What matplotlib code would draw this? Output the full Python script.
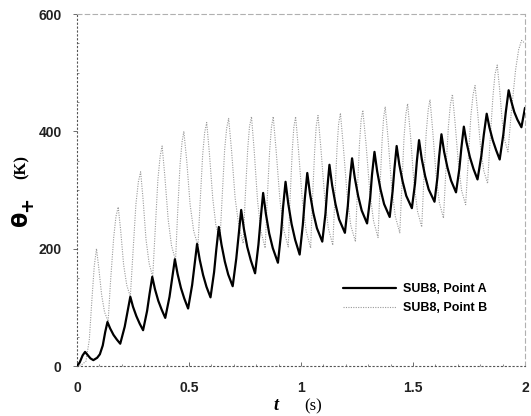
import matplotlib
matplotlib.use("Agg")
import matplotlib.pyplot as plt
from matplotlib.ticker import MultipleLocator

# ---- data ----
t_A = [0.000, 0.012, 0.025, 0.036, 0.047, 0.060, 0.073, 0.090, 0.102, 0.115, 0.126, 0.136,
       0.148, 0.163, 0.178, 0.193, 0.213, 0.226, 0.238,
       0.250, 0.265, 0.280, 0.295, 0.313, 0.324, 0.336,
       0.348, 0.363, 0.378, 0.394, 0.413, 0.425, 0.437,
       0.449, 0.464, 0.479, 0.496, 0.514, 0.525, 0.536,
       0.548, 0.563, 0.578, 0.596, 0.612, 0.622, 0.633,
       0.645, 0.660, 0.675, 0.695, 0.711, 0.722, 0.733,
       0.745, 0.760, 0.776, 0.795, 0.810, 0.820, 0.831,
       0.843, 0.858, 0.874, 0.897, 0.911, 0.920, 0.931,
       0.943, 0.958, 0.974, 0.994, 1.008, 1.017, 1.028,
       1.040, 1.055, 1.071, 1.095, 1.109, 1.117, 1.127,
       1.139, 1.154, 1.170, 1.196, 1.209, 1.217, 1.228,
       1.240, 1.255, 1.271, 1.295, 1.309, 1.317, 1.328,
       1.340, 1.355, 1.371, 1.396, 1.409, 1.417, 1.427,
       1.439, 1.454, 1.470, 1.495, 1.509, 1.517, 1.527,
       1.539, 1.554, 1.570, 1.596, 1.609, 1.617, 1.627,
       1.639, 1.654, 1.670, 1.692, 1.707, 1.716, 1.727,
       1.739, 1.754, 1.770, 1.788, 1.805, 1.816, 1.829,
       1.841, 1.856, 1.871, 1.887, 1.903, 1.914, 1.927,
       1.939, 1.952, 1.966, 1.984, 2.000]
theta_A = [0, 6, 18, 24, 19, 13, 10, 14, 20, 35, 58, 75,
           64, 53, 45, 38, 67, 93, 118,
           101, 85, 72, 61, 94, 123, 152,
           131, 111, 96, 82, 118, 150, 182,
           157, 133, 115, 98, 138, 173, 208,
           181, 155, 135, 117, 160, 199, 237,
           207, 178, 156, 136, 183, 224, 266,
           234, 203, 180, 158, 207, 251, 295,
           260, 226, 201, 176, 226, 271, 314,
           277, 242, 215, 190, 240, 285, 329,
           294, 261, 235, 212, 259, 301, 343,
           308, 276, 250, 227, 273, 313, 354,
           321, 290, 265, 243, 287, 326, 365,
           332, 301, 276, 254, 298, 336, 375,
           343, 314, 290, 269, 311, 348, 385,
           353, 324, 301, 280, 321, 358, 395,
           365, 338, 316, 296, 336, 372, 408,
           381, 356, 336, 318, 358, 394, 430,
           407, 385, 368, 352, 394, 432, 470,
           451, 433, 420, 407, 440]

t_B = [0.000, 0.020, 0.040, 0.055, 0.066, 0.077, 0.087,
       0.097, 0.110, 0.123, 0.139, 0.150, 0.164, 0.174, 0.184,
       0.195, 0.208, 0.222, 0.238, 0.250, 0.263, 0.274, 0.284,
       0.295, 0.308, 0.322, 0.338, 0.349, 0.361, 0.371, 0.380,
       0.392, 0.407, 0.422, 0.440, 0.449, 0.460, 0.469, 0.477,
       0.490, 0.505, 0.521, 0.540, 0.550, 0.561, 0.570, 0.579,
       0.591, 0.606, 0.620, 0.638, 0.648, 0.659, 0.668, 0.677,
       0.690, 0.706, 0.723, 0.742, 0.751, 0.762, 0.770, 0.779,
       0.791, 0.806, 0.821, 0.840, 0.849, 0.860, 0.868, 0.876,
       0.889, 0.906, 0.923, 0.943, 0.951, 0.961, 0.968, 0.976,
       0.989, 1.006, 1.023, 1.043, 1.051, 1.061, 1.068, 1.076,
       1.089, 1.106, 1.122, 1.142, 1.151, 1.161, 1.168, 1.176,
       1.189, 1.206, 1.222, 1.243, 1.251, 1.261, 1.268, 1.276,
       1.290, 1.307, 1.324, 1.344, 1.352, 1.362, 1.369, 1.376,
       1.389, 1.405, 1.421, 1.441, 1.450, 1.460, 1.468, 1.476,
       1.489, 1.504, 1.520, 1.539, 1.548, 1.559, 1.568, 1.576,
       1.588, 1.603, 1.618, 1.636, 1.646, 1.658, 1.667, 1.676,
       1.688, 1.703, 1.717, 1.735, 1.746, 1.758, 1.768, 1.777,
       1.788, 1.802, 1.816, 1.833, 1.844, 1.857, 1.866, 1.876,
       1.886, 1.898, 1.910, 1.924, 1.939, 1.958, 1.972, 1.985, 2.000]
theta_B = [0, 2, 8, 45, 110, 170, 200,
           168, 121, 92, 76, 146, 220, 255, 271,
           231, 173, 138, 118, 195, 276, 314, 331,
           284, 216, 175, 152, 232, 317, 357, 375,
           324, 250, 205, 180, 259, 343, 382, 400,
           349, 275, 230, 205, 281, 360, 398, 415,
           363, 286, 240, 214, 289, 368, 405, 422,
           367, 286, 237, 209, 287, 369, 408, 425,
           367, 282, 230, 201, 282, 367, 407, 425,
           367, 283, 232, 203, 283, 367, 407, 425,
           367, 282, 230, 201, 282, 367, 409, 427,
           370, 286, 235, 206, 287, 373, 413, 431,
           374, 291, 240, 212, 293, 378, 418, 436,
           380, 297, 247, 219, 299, 384, 424, 442,
           386, 304, 255, 227, 306, 390, 429, 447,
           392, 313, 264, 237, 315, 398, 437, 454,
           401, 325, 278, 252, 328, 408, 446, 463,
           414, 343, 299, 275, 348, 425, 462, 478,
           435, 371, 333, 311, 384, 460, 497, 513,
           475, 418, 384, 365, 433, 505, 540, 555, 550]

labels = ["SUB8, Point A", "SUB8, Point B"]
x_ticks = [0, 0.5, 1, 1.5, 2]
x_tick_labels = ["0", "0.5", "1", "1.5", "2"]
y_ticks = [0, 200, 400, 600]

# ---- figure ----
W, H = 531, 416
fig = plt.figure(figsize=(W / 100, H / 100), dpi=100)
ax = fig.add_axes([77 / W, 1 - 366 / H, (525 - 77) / W, (366 - 14) / H])

ax.plot(t_A, theta_A, color="black", lw=1.6, label=labels[0], zorder=3,
        solid_joinstyle="round", solid_capstyle="round")
ax.plot(t_B, theta_B, color="#9a9a9a", lw=0.8, ls=(0, (1, 1.2)), label=labels[1], zorder=2)

ax.set_xlim(0, 2)
ax.set_ylim(0, 600)
ax.set_xticks(x_ticks)
ax.set_xticklabels(x_tick_labels)
ax.set_yticks(y_ticks)
ax.xaxis.set_minor_locator(MultipleLocator(0.1))
ax.yaxis.set_minor_locator(MultipleLocator(50))

for side in ["left", "bottom"]:
    ax.spines[side].set_linestyle((0, (1, 2.5)))
    ax.spines[side].set_linewidth(0.8)
    ax.spines[side].set_color("#555555")
for side in ["top", "right"]:
    ax.spines[side].set_linestyle((0, (4, 3)))
    ax.spines[side].set_linewidth(0.8)
    ax.spines[side].set_color("#b0b0b0")

ax.tick_params(axis="both", which="major", length=3, width=0.6, color="#555555",
               labelsize=10, pad=8)
ax.tick_params(axis="y", which="major", direction="out")
ax.tick_params(axis="x", which="major", direction="in", pad=11)
ax.tick_params(axis="both", which="minor", length=1.5, width=0.6, color="#777777", direction="in")
for lab in ax.get_xticklabels() + ax.get_yticklabels():
    lab.set_fontfamily("Liberation Sans")
    lab.set_fontweight("bold")
    lab.set_color("#222222")

# axis labels
fig.text(21 / W, 1 - 218 / H, "θ", fontsize=16, fontweight="bold", rotation=90,
         ha="center", va="center", family="DejaVu Sans")
fig.text(27 / W, 1 - 204 / H, "+", fontsize=13, fontweight="bold", rotation=90,
         ha="center", va="center", family="DejaVu Sans")
fig.text(22 / W, 1 - 167 / H, "(K)", fontsize=12, rotation=90, ha="center", va="center",
         family="Liberation Serif", fontweight="bold")
fig.text(276 / W, 1 - 406 / H, "t", fontsize=13, style="italic", fontweight="bold",
         ha="center", va="center", family="Liberation Serif")
fig.text(313 / W, 1 - 406 / H, "(s)", fontsize=12, ha="center", va="center",
         family="Liberation Serif")

leg = ax.legend(loc="upper left", bbox_to_anchor=(0.594, 0.235), frameon=False,
                borderaxespad=0, borderpad=0, handlelength=4.2, handletextpad=0.6,
                labelspacing=0.55, prop={"family": "Liberation Sans", "weight": "bold", "size": 9})

fig.savefig("out.png", dpi=100)
